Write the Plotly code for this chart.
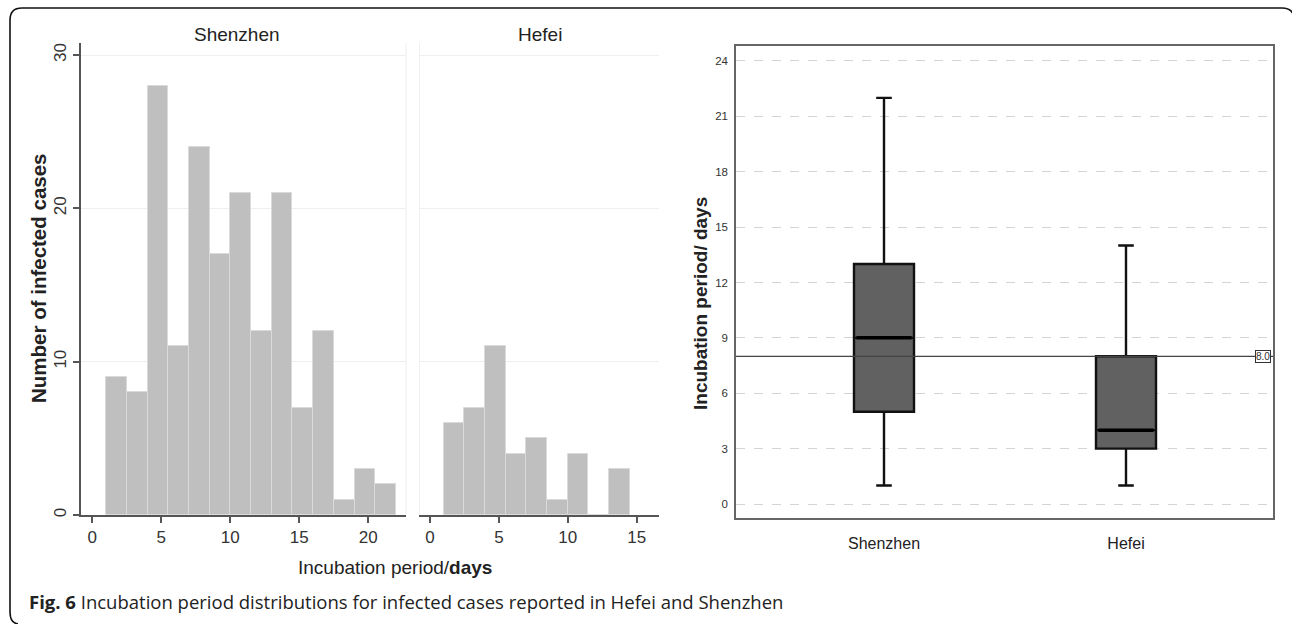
import plotly.graph_objects as go

# ---------------- data ----------------
bin_width = 1.5
sz_bin_left = [1.0, 2.5, 4.0, 5.5, 7.0, 8.5, 10.0, 11.5, 13.0, 14.5, 16.0, 17.5, 19.0, 20.5]
sz_counts = [9, 8, 28, 11, 24, 17, 21, 12, 21, 7, 12, 1, 3, 2]
hf_bin_left = [1.0, 2.5, 4.0, 5.5, 7.0, 8.5, 10.0, 11.5, 13.0]
hf_counts = [6, 7, 11, 4, 5, 1, 4, 0, 3]
hist_xticks = [0, 5, 10, 15, 20]
hist_yticks = [0, 10, 20, 30]

box_groups = ["Shenzhen", "Hefei"]
box_min = [1, 1]
box_q1 = [5, 3]
box_median = [9, 4]
box_q3 = [13, 8]
box_max = [22, 14]
reference_value = 8.0
box_yticks = [0, 3, 6, 9, 12, 15, 18, 21, 24]

caption_bold = "Fig. 6"
caption_text = "Incubation period distributions for infected cases reported in Hefei and Shenzhen"

# ---------------- layout helpers ----------------
W, H = 1292, 624


def fx(p):
    return p / W


def fy(p):
    return 1 - p / H


SANS = "Liberation Sans, Arial, sans-serif"
BAR_COLOR = "#bfbfbf"
BAR_EDGE = "#dadada"
AX = "#555555"

fig = go.Figure()

# histograms
fig.add_trace(go.Bar(
    x=[l + bin_width / 2 for l in sz_bin_left], y=sz_counts, width=bin_width,
    marker=dict(color=BAR_COLOR, line=dict(color=BAR_EDGE, width=1)),
    xaxis="x", yaxis="y", showlegend=False, hoverinfo="x+y"))
fig.add_trace(go.Bar(
    x=[l + bin_width / 2 for l in hf_bin_left], y=hf_counts, width=bin_width,
    marker=dict(color=BAR_COLOR, line=dict(color=BAR_EDGE, width=1)),
    xaxis="x2", yaxis="y2", showlegend=False, hoverinfo="x+y"))

# box plot
box_w = 0.248
fig.add_trace(go.Box(
    x=list(range(len(box_groups))), q1=box_q1, median=box_median, q3=box_q3,
    lowerfence=box_min, upperfence=box_max, width=box_w, whiskerwidth=0.26,
    fillcolor="#616161", line=dict(color="#111111", width=2.4),
    boxpoints=False, xaxis="x3", yaxis="y3", showlegend=False))
for i, m in enumerate(box_median):
    fig.add_trace(go.Scatter(
        x=[i - box_w / 2 + 0.01, i + box_w / 2 - 0.01], y=[m, m], mode="lines",
        line=dict(color="#000000", width=3.5), xaxis="x3", yaxis="y3",
        showlegend=False, hoverinfo="skip"))

tickfont_hist = dict(family=SANS, size=17, color="#333333")
hist_yrange = [0, (515 - 43) / 15.33]

fig.update_layout(
    width=W, height=H, margin=dict(l=0, r=0, t=0, b=0),
    paper_bgcolor="white", plot_bgcolor="rgba(0,0,0,0)",
    template="none", bargap=0, showlegend=False,
    font=dict(family=SANS, color="#222222"),
    xaxis=dict(domain=[fx(81), fx(406)], range=[(81 - 92.3) / 13.8, (406 - 92.3) / 13.8],
               anchor="y", tickvals=hist_xticks, ticks="outside", ticklen=6, tickwidth=1.5,
               tickcolor=AX, showline=True, linecolor=AX, linewidth=1.5, showgrid=False,
               zeroline=False, tickfont=tickfont_hist, automargin=False),
    yaxis=dict(domain=[fy(515), fy(43)], range=hist_yrange, anchor="x",
               tickvals=hist_yticks, tickangle=-90, ticks="outside", ticklen=6, tickwidth=1.5,
               tickcolor=AX, showline=True, linecolor=AX, linewidth=1.5, showgrid=True,
               gridcolor="#efefef", gridwidth=1, zeroline=False, tickfont=tickfont_hist,
               automargin=False),
    xaxis2=dict(domain=[fx(420), fx(659)], range=[(420 - 430) / 13.78, (659 - 430) / 13.78],
                anchor="y2", tickvals=hist_xticks, ticks="outside", ticklen=6, tickwidth=1.5,
                tickcolor=AX, showline=True, linecolor=AX, linewidth=1.5, showgrid=False,
                zeroline=False, tickfont=tickfont_hist, automargin=False),
    yaxis2=dict(domain=[fy(515), fy(43)], range=hist_yrange, anchor="x2",
                tickvals=hist_yticks, showticklabels=False, ticks="", showline=True,
                linecolor="#f0f0f0", linewidth=1, showgrid=True, gridcolor="#efefef",
                zeroline=False, automargin=False),
    xaxis3=dict(domain=[fx(736), fx(1273)], range=[(736 - 884) / 242, (1273 - 884) / 242],
                anchor="y3", tickvals=list(range(len(box_groups))), ticktext=box_groups,
                ticks="", showline=True, mirror=True, linecolor="#666666", linewidth=1.5,
                showgrid=False, zeroline=False, ticklabelstandoff=10,
                tickfont=dict(family=SANS, size=16, color="#222222"), automargin=False),
    yaxis3=dict(domain=[fy(518), fy(46)], range=[(504 - 518) / 18.46, (504 - 46) / 18.46],
                anchor="x3", tickvals=box_yticks, ticks="", showline=True, mirror=True,
                linecolor="#666666", linewidth=1.5, showgrid=True, gridcolor="#d4d4d4",
                griddash="dash", gridwidth=1, zeroline=False, ticklabelstandoff=4,
                tickfont=dict(family=SANS, size=11.5, color="#333333"), automargin=False),
)

# decorations
shapes = [
    dict(type="line", xref="x domain", yref="y domain", x0=1, x1=1, y0=0, y1=1,
         line=dict(color="#eeeeee", width=1)),
    dict(type="line", xref="x3 domain", yref="y3", x0=0, x1=1, y0=reference_value,
         y1=reference_value, line=dict(color="#444444", width=1.2)),
]
path = ("M {x0},{yb} L {x0},{yt2} Q {x0},{yt} {x0r},{yt} L {x1r},{yt} Q {x1},{yt} {x1},{yt2}"
        .format(x0=fx(10), yb=fy(612), yt2=fy(20), yt=fy(8), x0r=fx(22), x1r=fx(1282),
                x1=fx(1294)))
path_bl = "M {a},{b} Q {c},{d} {e},{f}".format(a=fx(10), b=fy(612), c=fx(10), d=fy(623),
                                                e=fx(18), f=fy(624))
shapes.append(dict(type="path", xref="paper", yref="paper", path=path,
                   line=dict(color="#111111", width=1.6)))
shapes.append(dict(type="path", xref="paper", yref="paper", path=path_bl,
                   line=dict(color="#111111", width=1.6)))
fig.update_layout(shapes=shapes)


def ann(text, px, py, size, angle=0, xanchor="center", family=SANS, **kw):
    return dict(text=text, x=fx(px), y=fy(py), xref="paper", yref="paper",
                xanchor=xanchor, yanchor="middle", textangle=angle, showarrow=False,
                font=dict(family=family, size=size, color="#222222"), **kw)


annotations = [
    ann("Shenzhen", 237, 34, 19),
    ann("Hefei", 540, 34, 19),
    ann("<b>Number of infected cases</b>", 38, 278, 20.5, angle=-90),
    ann("Incubation period/<b>days</b>", 395, 567, 19),
    ann("<b>Incubation period/ days</b>", 700, 304, 19, angle=-90),
    ann("<b>%s</b> %s" % (caption_bold, caption_text), 27, 601, 18.5, xanchor="left",
        family="Open Sans, Noto Sans, sans-serif"),
    dict(text="%.1f" % reference_value, xref="x3 domain", yref="y3", x=0.997, y=reference_value,
         xanchor="right", yanchor="middle", showarrow=False, bordercolor="#333333",
         borderwidth=1, borderpad=0, bgcolor="white",
         font=dict(family=SANS, size=10, color="#333333")),
]
fig.update_layout(annotations=annotations)

fig.write_html("out.html", config={"displayModeBar": False},
               post_script="document.body.style.margin='0px';")
